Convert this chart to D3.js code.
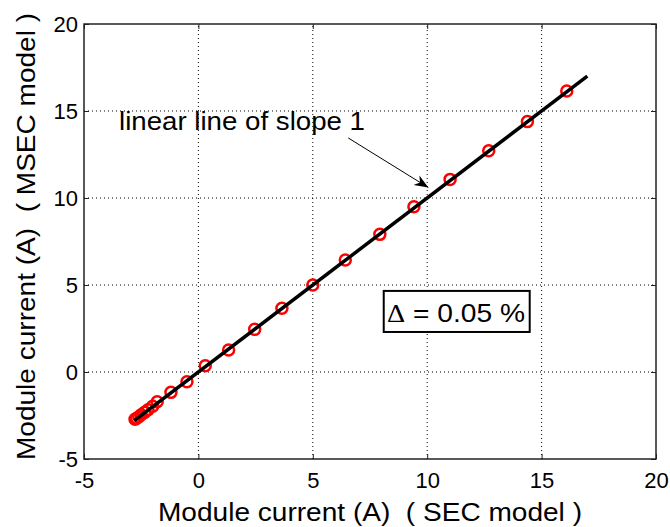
<!DOCTYPE html>
<html lang="en">
<head>
<meta charset="utf-8">
<title>SEC vs MSEC module current</title>
<script src="https://cdn.jsdelivr.net/npm/d3@7"></script>
<style>
  body { margin: 0; background: #fff; }
  text { font-family: "Liberation Sans", Arial, sans-serif; fill: #000; white-space: pre; }
  .grid line { stroke: #000; stroke-width: 1; stroke-dasharray: 1,3; }
</style>
</head>
<body>
<script>
// data
var ticks = [-5, 0, 5, 10, 15, 20];
var secCurrent  = [-2.77, -2.7, -2.6, -2.5, -2.35, -2.2, -2.0, -1.8, -1.2, -0.5, 0.3, 1.32, 2.46, 3.65, 5.0, 6.42, 7.93, 9.42, 11.0, 12.69, 14.38, 16.1];
var msecCurrent = [-2.72, -2.66, -2.57, -2.46, -2.32, -2.17, -1.97, -1.71, -1.17, -0.56, 0.36, 1.26, 2.45, 3.66, 5.0, 6.44, 7.91, 9.5, 11.07, 12.72, 14.39, 16.15];
var slopeLine = [-2.8, 17];

var W = 670, H = 527;
var m = {left: 84, right: 14, top: 24, bottom: 68};

var svg = d3.select("body").append("svg")
  .attr("width", W).attr("height", H);

var x = d3.scaleLinear().domain([-5, 20]).range([m.left, W - m.right]);
var y = d3.scaleLinear().domain([-5, 20]).range([H - m.bottom, m.top]);

// dotted grid
var grid = svg.append("g").attr("class", "grid");
grid.selectAll(".gx").data(ticks.slice(1, -1)).enter().append("line")
  .attr("x1", d => x(d)).attr("x2", d => x(d))
  .attr("y1", y(-5)).attr("y2", y(20));
grid.selectAll(".gy").data(ticks.slice(1, -1)).enter().append("line")
  .attr("y1", d => y(d)).attr("y2", d => y(d))
  .attr("x1", x(-5)).attr("x2", x(20));

// axes, matlab style ticks pointing inwards
var tk = 5;
var fmt = d => String(d);  // plain hyphen for negatives
svg.append("g").attr("transform", "translate(0," + y(-5) + ")")
  .call(d3.axisBottom(x).tickValues(ticks).tickSize(-tk).tickPadding(13).tickFormat(fmt))
  .call(g => g.select(".domain").remove());
svg.append("g").attr("transform", "translate(" + x(-5) + ",0)")
  .call(d3.axisLeft(y).tickValues(ticks).tickSize(-tk).tickPadding(6).tickFormat(fmt))
  .call(g => g.select(".domain").remove());
svg.append("g").attr("transform", "translate(0," + y(20) + ")")
  .call(d3.axisTop(x).tickValues(ticks).tickSize(-tk).tickFormat(""))
  .call(g => g.select(".domain").remove());
svg.append("g").attr("transform", "translate(" + x(20) + ",0)")
  .call(d3.axisRight(y).tickValues(ticks).tickSize(-tk).tickFormat(""))
  .call(g => g.select(".domain").remove());
svg.selectAll(".tick line").attr("stroke", "#222");
svg.selectAll(".tick text").style("font-size", "22px").style("font-family", "Liberation Sans, Arial, sans-serif");

// frame
svg.append("rect")
  .attr("x", x(-5)).attr("y", y(20))
  .attr("width", x(20) - x(-5)).attr("height", y(-5) - y(20))
  .attr("fill", "none").attr("stroke", "#222").attr("stroke-width", 1.5);

// data points
svg.selectAll(".pt").data(secCurrent).enter().append("circle")
  .attr("cx", d => x(d))
  .attr("cy", (d, i) => y(msecCurrent[i]))
  .attr("r", 5.5)
  .attr("fill", "none").attr("stroke", "red").attr("stroke-width", 2.5);

// slope 1 line
svg.append("line")
  .attr("x1", x(slopeLine[0])).attr("y1", y(slopeLine[0]))
  .attr("x2", x(slopeLine[1])).attr("y2", y(slopeLine[1]))
  .attr("stroke", "#000").attr("stroke-width", 3.5);

// annotation
svg.append("defs").append("marker")
  .attr("id", "head").attr("viewBox", "0 0 10 10")
  .attr("refX", 10).attr("refY", 5)
  .attr("markerWidth", 14).attr("markerHeight", 14)
  .attr("markerUnits", "userSpaceOnUse")
  .attr("orient", "auto")
  .append("path").attr("d", "M0,1 L10,5 L0,9 L3,5 Z").attr("fill", "#000");

svg.append("text")
  .attr("x", 119).attr("y", 130)
  .attr("textLength", 246).attr("lengthAdjust", "spacingAndGlyphs")
  .style("font-size", "26px")
  .text("linear line of slope 1");
svg.append("line")
  .attr("x1", x(6.55)).attr("y1", y(13.45))
  .attr("x2", x(10.05)).attr("y2", y(10.6))
  .attr("stroke", "#000").attr("stroke-width", 1)
  .attr("marker-end", "url(#head)");

// delta box
svg.append("rect")
  .attr("x", x(8.1)).attr("y", y(4.66))
  .attr("width", x(14.48) - x(8.1)).attr("height", y(2.3) - y(4.66))
  .attr("fill", "#fff").attr("stroke", "#000").attr("stroke-width", 2);
var dt = svg.append("text")
  .attr("x", 387).attr("y", 322)
  .attr("textLength", 138).attr("lengthAdjust", "spacingAndGlyphs")
  .style("font-size", "25px");
dt.append("tspan").style("font-family", "Liberation Serif, Times New Roman, serif").text("\u0394");
dt.append("tspan").text(" = 0.05 %");

// axis titles
svg.append("text")
  .attr("x", 158).attr("y", 521)
  .attr("textLength", 424).attr("lengthAdjust", "spacingAndGlyphs")
  .style("font-size", "25px")
  .text("Module current (A)  ( SEC model )");
svg.append("text")
  .attr("transform", "translate(35,460) rotate(-90)")
  .attr("textLength", 447).attr("lengthAdjust", "spacingAndGlyphs")
  .style("font-size", "25px")
  .text("Module current (A)  ( MSEC model )");
</script>
</body>
</html>
